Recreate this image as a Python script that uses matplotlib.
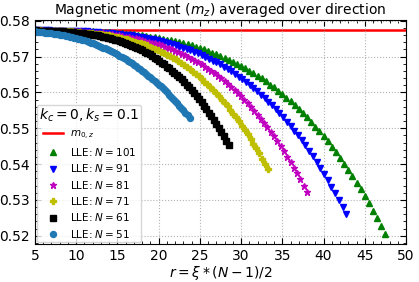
# -*- coding: utf-8 -*-
"""
Magnetic moment (m_z) averaged over direction, LLE results for several chain lengths N.
x axis: r = xi * (N-1)/2, xi sampled every 0.01 up to 0.95
"""

import numpy as np
import matplotlib.pyplot as plt
from matplotlib.ticker import AutoMinorLocator


# ──────────────────────────────────────────────
# data
# ──────────────────────────────────────────────
M0_Z = 0.57735          # m_{0,z}

# xi sampling grid 0.09 .. 0.95, each series uses its tail
XI = np.round(np.arange(0.09, 0.955, 0.01), 2)

N_VALUES = [101, 91, 81, 71, 61, 51]

Y_N101 = [0.5773,
          0.5773, 0.5773, 0.5773, 0.5773, 0.5773, 0.5772, 0.5772, 0.5772, 0.5772, 0.5772,
          0.5771, 0.5771, 0.5771, 0.5770, 0.5770, 0.5769, 0.5769, 0.5768, 0.5768, 0.5767,
          0.5766, 0.5765, 0.5764, 0.5763, 0.5762, 0.5760, 0.5759, 0.5757, 0.5756, 0.5754,
          0.5752, 0.5750, 0.5747, 0.5745, 0.5743, 0.5740, 0.5737, 0.5734, 0.5731, 0.5727,
          0.5723, 0.5720, 0.5715, 0.5711, 0.5707, 0.5702, 0.5697, 0.5691, 0.5686, 0.5680,
          0.5674, 0.5668, 0.5661, 0.5654, 0.5646, 0.5639, 0.5631, 0.5622, 0.5614, 0.5604,
          0.5595, 0.5585, 0.5575, 0.5564, 0.5553, 0.5542, 0.5530, 0.5517, 0.5504, 0.5491,
          0.5477, 0.5463, 0.5448, 0.5433, 0.5417, 0.5401, 0.5384, 0.5366, 0.5348, 0.5330,
          0.5311, 0.5291, 0.5270, 0.5249, 0.5227, 0.5205]

Y_N91 = [0.5773, 0.5773, 0.5773, 0.5773, 0.5773, 0.5773, 0.5772, 0.5772, 0.5772, 0.5772,
         0.5772, 0.5771, 0.5771, 0.5771, 0.5770, 0.5770, 0.5769, 0.5769, 0.5768, 0.5767,
         0.5767, 0.5766, 0.5765, 0.5764, 0.5763, 0.5761, 0.5760, 0.5759, 0.5757, 0.5756,
         0.5754, 0.5752, 0.5750, 0.5748, 0.5745, 0.5743, 0.5740, 0.5738, 0.5735, 0.5732,
         0.5728, 0.5725, 0.5721, 0.5717, 0.5713, 0.5709, 0.5704, 0.5699, 0.5694, 0.5689,
         0.5684, 0.5678, 0.5672, 0.5665, 0.5659, 0.5652, 0.5644, 0.5637, 0.5629, 0.5621,
         0.5612, 0.5603, 0.5594, 0.5584, 0.5574, 0.5564, 0.5553, 0.5542, 0.5530, 0.5518,
         0.5506, 0.5493, 0.5480, 0.5466, 0.5452, 0.5437, 0.5422, 0.5406, 0.5389, 0.5373,
         0.5355, 0.5337, 0.5319, 0.5300, 0.5280, 0.5260]

Y_N81 = [0.5773, 0.5773, 0.5773, 0.5773, 0.5773, 0.5772, 0.5772, 0.5772, 0.5772,
         0.5772, 0.5772, 0.5771, 0.5771, 0.5771, 0.5770, 0.5770, 0.5769, 0.5769, 0.5768,
         0.5767, 0.5767, 0.5766, 0.5765, 0.5764, 0.5763, 0.5762, 0.5760, 0.5759, 0.5758,
         0.5756, 0.5754, 0.5753, 0.5751, 0.5749, 0.5747, 0.5744, 0.5742, 0.5739, 0.5737,
         0.5734, 0.5731, 0.5727, 0.5724, 0.5720, 0.5716, 0.5712, 0.5708, 0.5704, 0.5699,
         0.5694, 0.5689, 0.5684, 0.5678, 0.5672, 0.5666, 0.5660, 0.5653, 0.5646, 0.5639,
         0.5632, 0.5624, 0.5616, 0.5607, 0.5598, 0.5589, 0.5580, 0.5570, 0.5560, 0.5549,
         0.5538, 0.5527, 0.5515, 0.5503, 0.5490, 0.5477, 0.5464, 0.5450, 0.5436, 0.5421,
         0.5406, 0.5390, 0.5374, 0.5357, 0.5340, 0.5322]

Y_N71 = [0.5773, 0.5773, 0.5773, 0.5773, 0.5772, 0.5772, 0.5772,
         0.5772, 0.5772, 0.5772, 0.5771, 0.5771, 0.5771, 0.5770, 0.5770, 0.5769, 0.5769,
         0.5768, 0.5767, 0.5767, 0.5766, 0.5765, 0.5764, 0.5763, 0.5762, 0.5761, 0.5760,
         0.5759, 0.5757, 0.5756, 0.5754, 0.5752, 0.5750, 0.5748, 0.5746, 0.5744, 0.5742,
         0.5739, 0.5737, 0.5734, 0.5731, 0.5728, 0.5724, 0.5721, 0.5717, 0.5713, 0.5710,
         0.5705, 0.5701, 0.5696, 0.5692, 0.5687, 0.5681, 0.5676, 0.5670, 0.5664, 0.5658,
         0.5651, 0.5645, 0.5638, 0.5630, 0.5623, 0.5615, 0.5607, 0.5598, 0.5590, 0.5580,
         0.5571, 0.5561, 0.5551, 0.5541, 0.5530, 0.5519, 0.5507, 0.5495, 0.5483, 0.5470,
         0.5457, 0.5444, 0.5430, 0.5415, 0.5400, 0.5385]

Y_N61 = [0.5773, 0.5773, 0.5773, 0.5772, 0.5772,
         0.5772, 0.5772, 0.5772, 0.5772, 0.5771, 0.5771, 0.5771, 0.5770, 0.5770, 0.5769,
         0.5769, 0.5768, 0.5768, 0.5767, 0.5767, 0.5766, 0.5765, 0.5764, 0.5763, 0.5762,
         0.5761, 0.5760, 0.5759, 0.5757, 0.5756, 0.5754, 0.5753, 0.5751, 0.5749, 0.5747,
         0.5745, 0.5743, 0.5740, 0.5738, 0.5735, 0.5733, 0.5730, 0.5727, 0.5724, 0.5720,
         0.5717, 0.5713, 0.5710, 0.5706, 0.5701, 0.5697, 0.5693, 0.5688, 0.5683, 0.5678,
         0.5672, 0.5667, 0.5661, 0.5655, 0.5649, 0.5642, 0.5636, 0.5629, 0.5621, 0.5614,
         0.5606, 0.5598, 0.5589, 0.5581, 0.5572, 0.5563, 0.5553, 0.5543, 0.5533, 0.5522,
         0.5512, 0.5500, 0.5489, 0.5477, 0.5465, 0.5452]

Y_N51 = [0.5771, 0.5770,
         0.5770, 0.5769, 0.5769, 0.5768, 0.5768, 0.5767, 0.5767, 0.5766, 0.5765, 0.5764,
         0.5763, 0.5762, 0.5761, 0.5760, 0.5759, 0.5758, 0.5757, 0.5756, 0.5754, 0.5753,
         0.5751, 0.5750, 0.5748, 0.5746, 0.5745, 0.5743, 0.5741, 0.5739, 0.5737, 0.5735,
         0.5733, 0.5730, 0.5728, 0.5725, 0.5723, 0.5720, 0.5717, 0.5715, 0.5712, 0.5709,
         0.5706, 0.5702, 0.5699, 0.5696, 0.5692, 0.5689, 0.5685, 0.5681, 0.5677, 0.5673,
         0.5669, 0.5665, 0.5661, 0.5656, 0.5652, 0.5647, 0.5642, 0.5637, 0.5633, 0.5627,
         0.5622, 0.5617, 0.5611, 0.5606, 0.5600, 0.5594, 0.5588, 0.5582, 0.5576, 0.5570,
         0.5563, 0.5557, 0.5550, 0.5543, 0.5536, 0.5529]

Y_SERIES = [Y_N101, Y_N91, Y_N81, Y_N71, Y_N61, Y_N51]
COLORS   = ["g", "b", "m", "y", "k", "#1f77b4"]
MARKERS  = ["^", "v", "*", "P", "s", "o"]
SIZES    = [4.5, 4.5, 4.5, 4.2, 3.8, 4.3]


# ──────────────────────────────────────────────
# plot
# ──────────────────────────────────────────────
fig = plt.figure(figsize=(4.19, 2.82), dpi=100)
ax = fig.add_axes([0.0835, 0.135, 0.8855, 0.794])

ax.axhline(M0_Z, color="red", linewidth=1.8, label=r"$m_{0,z}$", zorder=1)

for n, ys, c, mk, ms in zip(N_VALUES, Y_SERIES, COLORS, MARKERS, SIZES):
    xs = XI[-len(ys):] * (n - 1) / 2
    ax.plot(xs, ys, linestyle="none", marker=mk, color=c, markersize=ms,
            label=rf"LLE: $N = {n}$", zorder=2)

ax.set_xlim(5, 50)
ax.set_ylim(0.5177, 0.5802)
ax.set_xticks(np.arange(5, 51, 5))
ax.set_yticks([0.52, 0.53, 0.54, 0.55, 0.56, 0.57, 0.58])
ax.xaxis.set_minor_locator(AutoMinorLocator())
ax.yaxis.set_minor_locator(AutoMinorLocator())
ax.tick_params(which="both", direction="in", top=True, right=True, labelsize=10)
ax.tick_params(which="major", length=4)
ax.tick_params(which="minor", length=2)
ax.grid(True, which="major", linestyle=":", color="0.7", linewidth=0.8)

ax.set_title(r"Magnetic moment $(m_z)$ averaged over direction", fontsize=10, pad=4)
ax.set_xlabel(r"$r = \xi * (N-1)/2$", fontsize=10, labelpad=1)

leg = ax.legend(loc="lower left", title=r"$k_c = 0, k_s = 0.1$",
                title_fontsize=10, fontsize=7.5, numpoints=1,
                borderaxespad=0.2, borderpad=0.2, labelspacing=0.42,
                handletextpad=0.6)

fig.savefig("out.png", dpi=100)
